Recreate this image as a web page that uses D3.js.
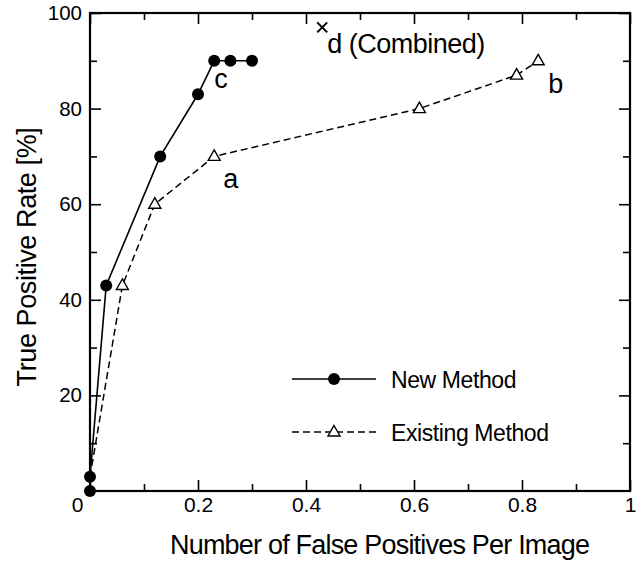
<!DOCTYPE html>
<html>
<head>
<meta charset="utf-8">
<script src="https://cdn.jsdelivr.net/npm/d3@7"></script>
<style>
  body { margin: 0; background: #fff; }
  text { font-family: "Liberation Sans", Arial, sans-serif; fill: #000; }
</style>
</head>
<body>
<div id="container"></div>
<script>
// container window size
let cwW = 643;
let cwH = 565;

// plot box
const pLeft = 90, pRight = 630, pTop = 13, pBottom = 491;

// data
const newFP  = [0, 0, 0.03, 0.13, 0.20, 0.23, 0.26, 0.30];
const newTP  = [0, 3, 43, 70, 83, 90, 90, 90];
const oldFP  = [0, 0.06, 0.12, 0.23, 0.61, 0.79, 0.83];
const oldTP  = [3, 43, 60, 70, 80, 87, 90];
const combFP = [0.43];
const combTP = [97];

// point labels: text, and the point they belong to
const labelText = ["c", "a", "b", "d (Combined)"];
const labelFP   = [0.23, 0.23, 0.83, 0.43];
const labelTP   = [90, 70, 90, 97];
// label offsets in px
const labelDX = [0, 9, 10, 5];
const labelDY = [27, 32, 32, 26];

// ticks
const xMajor = [0, 0.2, 0.4, 0.6, 0.8, 1];
const xMinor = [0.1, 0.3, 0.5, 0.7, 0.9];
const yMajor = [20, 40, 60, 80, 100];
const yMinor = [10, 30, 50, 70, 90];

const legendNames = ["New Method", "Existing Method"];

let svgArea = d3.select("#container").append("svg")
  .attr("width", cwW)
  .attr("height", cwH);

let x = d3.scaleLinear().domain([0, 1]).range([pLeft, pRight]);
let y = d3.scaleLinear().domain([0, 100]).range([pBottom, pTop]);

/**************************
* Axes
**************************/
const majT = 11, minT = 7;

function styleAxis(g) {
  g.select(".domain").remove();
  g.selectAll(".tick line").attr("stroke", "#000").attr("stroke-width", 1.6);
}

// bottom
svgArea.append("g").attr("transform", `translate(0,${pBottom})`)
  .call(d3.axisBottom(x).tickValues(xMajor).tickSize(-majT).tickPadding(6).tickFormat(d3.format("~g")))
  .call(styleAxis)
  .call(g => g.selectAll("text").attr("font-size", 21).attr("font-family", null))
  .call(g => g.selectAll(".tick").filter(d => d === 0).select("text").attr("dx", -13));
svgArea.append("g").attr("transform", `translate(0,${pBottom})`)
  .call(d3.axisBottom(x).tickValues(xMinor).tickSize(-minT).tickFormat(""))
  .call(styleAxis);
// top
svgArea.append("g").attr("transform", `translate(0,${pTop})`)
  .call(d3.axisTop(x).tickValues(xMajor).tickSize(-majT).tickFormat(""))
  .call(styleAxis);
svgArea.append("g").attr("transform", `translate(0,${pTop})`)
  .call(d3.axisTop(x).tickValues(xMinor).tickSize(-minT).tickFormat(""))
  .call(styleAxis);
// left
svgArea.append("g").attr("transform", `translate(${pLeft},0)`)
  .call(d3.axisLeft(y).tickValues(yMajor).tickSize(-majT).tickPadding(8))
  .call(styleAxis)
  .call(g => g.selectAll("text").attr("font-size", 20.5).attr("font-family", null));
svgArea.append("g").attr("transform", `translate(${pLeft},0)`)
  .call(d3.axisLeft(y).tickValues(yMinor).tickSize(-minT).tickFormat(""))
  .call(styleAxis);
// right
svgArea.append("g").attr("transform", `translate(${pRight},0)`)
  .call(d3.axisRight(y).tickValues(yMajor).tickSize(-majT).tickFormat(""))
  .call(styleAxis);
svgArea.append("g").attr("transform", `translate(${pRight},0)`)
  .call(d3.axisRight(y).tickValues(yMinor).tickSize(-minT).tickFormat(""))
  .call(styleAxis);

// frame
svgArea.append("rect")
  .attr("x", pLeft).attr("y", pTop)
  .attr("width", pRight - pLeft).attr("height", pBottom - pTop)
  .attr("fill", "none").attr("stroke", "#000").attr("stroke-width", 2.2);

// axis titles
svgArea.append("text")
  .attr("x", 170).attr("y", 554)
  .attr("font-size", 27)
  .attr("letter-spacing", -0.8)
  .text("Number of False Positives Per Image");
svgArea.append("text")
  .attr("transform", "translate(36,257) rotate(-90)")
  .attr("text-anchor", "middle")
  .attr("font-size", 27)
  .attr("letter-spacing", -0.4)
  .text("True Positive Rate [%]");

/**************************
* Series
**************************/
let line = d3.line().x(d => x(d[0])).y(d => y(d[1]));
let newPts = d3.zip(newFP, newTP);
let oldPts = d3.zip(oldFP, oldTP);

const triPath = "M0,-6.5L6,4L-6,4Z";

// existing method
svgArea.append("path")
  .datum(oldPts)
  .attr("d", line)
  .attr("fill", "none")
  .attr("stroke", "#000")
  .attr("stroke-width", 1.5)
  .attr("stroke-dasharray", "7,4");
svgArea.append("g").selectAll("path")
  .data(oldPts.slice(1))   // first point sits under the new-method marker
  .enter().append("path")
  .attr("transform", d => `translate(${x(d[0])},${y(d[1])})`)
  .attr("d", triPath)
  .attr("fill", "#fff")
  .attr("stroke", "#000")
  .attr("stroke-width", 1.4);

// new method
svgArea.append("path")
  .datum(newPts)
  .attr("d", line)
  .attr("fill", "none")
  .attr("stroke", "#000")
  .attr("stroke-width", 1.6);
svgArea.append("g").selectAll("circle")
  .data(newPts)
  .enter().append("circle")
  .attr("cx", d => x(d[0]))
  .attr("cy", d => y(d[1]))
  .attr("r", 6)
  .attr("fill", "#000");

// combined
svgArea.append("g").selectAll("path")
  .data(d3.zip(combFP, combTP))
  .enter().append("path")
  .attr("transform", d => `translate(${x(d[0])},${y(d[1])})`)
  .attr("d", "M-5,-5L5,5M-5,5L5,-5")
  .attr("stroke", "#000")
  .attr("stroke-width", 2);

// point labels
svgArea.append("g").selectAll("text")
  .data(labelText)
  .enter().append("text")
  .attr("x", (d, i) => x(labelFP[i]) + labelDX[i])
  .attr("y", (d, i) => y(labelTP[i]) + labelDY[i])
  .attr("font-size", 27)
  .attr("letter-spacing", -0.5)
  .text(d => d);

/**************************
* Legend
**************************/
const lgX0 = 292, lgX1 = 376, lgMid = 334, lgText = 391;
const lgY = [379, 432];

svgArea.append("line")
  .attr("x1", lgX0).attr("x2", lgX1).attr("y1", lgY[0]).attr("y2", lgY[0])
  .attr("stroke", "#000").attr("stroke-width", 1.6);
svgArea.append("circle")
  .attr("cx", lgMid).attr("cy", lgY[0]).attr("r", 6).attr("fill", "#000");
svgArea.append("line")
  .attr("x1", lgX0).attr("x2", lgX1).attr("y1", lgY[1]).attr("y2", lgY[1])
  .attr("stroke", "#000").attr("stroke-width", 1.5)
  .attr("stroke-dasharray", "7,4");
svgArea.append("path")
  .attr("transform", `translate(${lgMid},${lgY[1]})`)
  .attr("d", triPath)
  .attr("fill", "#fff").attr("stroke", "#000").attr("stroke-width", 1.4);

svgArea.append("g").selectAll("text")
  .data(legendNames)
  .enter().append("text")
  .attr("x", lgText)
  .attr("y", (d, i) => lgY[i] + 9)
  .attr("font-size", 23)
  .attr("letter-spacing", -0.4)
  .text(d => d);
</script>
</body>
</html>
